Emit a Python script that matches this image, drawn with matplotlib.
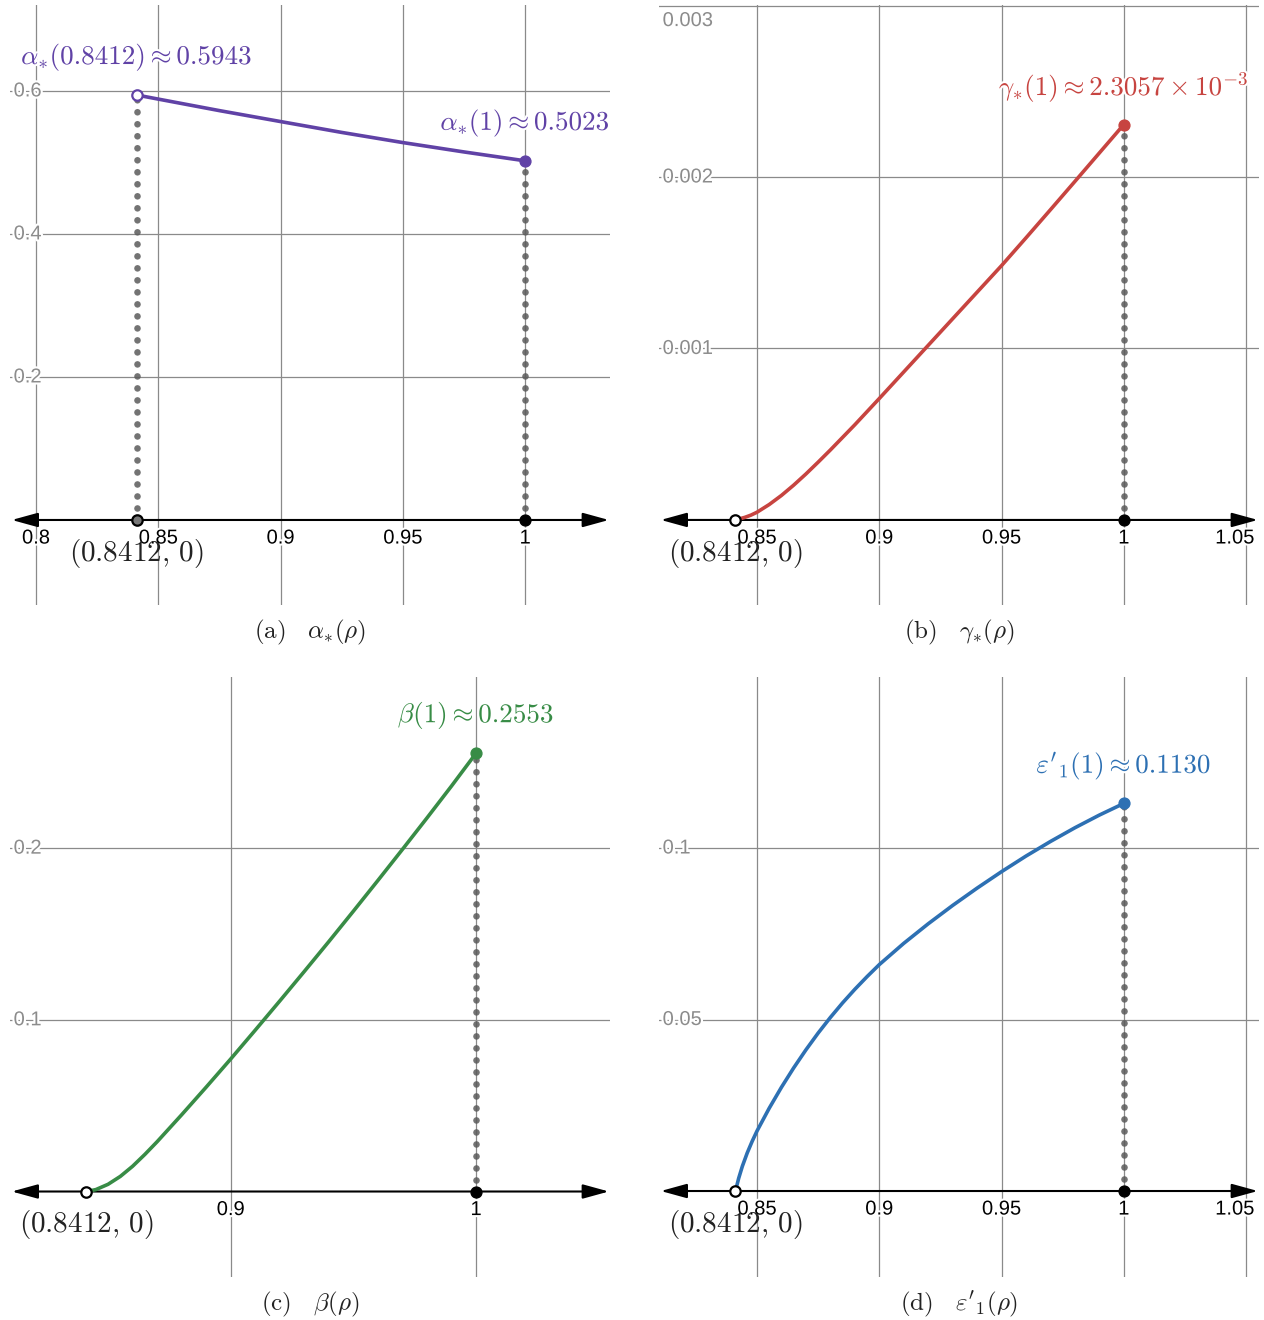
import matplotlib

matplotlib.use("Agg")
import matplotlib.pyplot as plt
import matplotlib.patheffects as pe
from matplotlib.patches import FancyArrowPatch

plt.rcParams["mathtext.fontset"] = "cm"
plt.rcParams["font.family"] = ["Liberation Sans", "DejaVu Sans"]

RHO0 = 0.8412

# (a) alpha_*(rho)
alpha_rho = [0.8412, 0.85, 0.875, 0.9, 0.925, 0.95, 0.975, 1.0]
alpha_val = [0.5943, 0.5886, 0.5725, 0.5572, 0.5420, 0.5278, 0.5147, 0.5023]

# (b) gamma_*(rho)
gamma_rho = [0.8412, 0.845, 0.8475, 0.85, 0.855, 0.86, 0.865, 0.87, 0.875,
             0.88, 0.89, 0.9, 0.91, 0.92, 0.93, 0.94, 0.95, 0.96, 0.97,
             0.98, 0.99, 1.0]
gamma_val = [0.0, 0.000015, 0.000028, 0.000045, 0.000090, 0.000143,
             0.000203, 0.000268, 0.000337, 0.000408, 0.000555, 0.000708,
             0.000863, 0.001018, 0.001173, 0.001328, 0.001483, 0.001645,
             0.001809, 0.001974, 0.00214, 0.0023057]

# (c) beta(rho)
beta_rho = [0.8412, 0.845, 0.85, 0.855, 0.86, 0.865, 0.87, 0.88, 0.89, 0.9,
            0.91, 0.92, 0.93, 0.94, 0.95, 0.96, 0.97, 0.98, 0.99, 1.0]
beta_val = [0.0, 0.0011, 0.0042, 0.0088, 0.0147, 0.0216, 0.0290, 0.0447,
            0.0608, 0.0772, 0.0940, 0.1110, 0.1282, 0.1456, 0.1633, 0.1812,
            0.1993, 0.2176, 0.2362, 0.2553]

# (d) eps'_1(rho)
eps_rho = [0.8412, 0.8425, 0.844, 0.846, 0.848, 0.85, 0.855, 0.86, 0.865,
           0.87, 0.875, 0.88, 0.885, 0.89, 0.895, 0.9, 0.91, 0.92, 0.93,
           0.94, 0.95, 0.96, 0.97, 0.98, 0.99, 1.0]
eps_val = [0.0, 0.0037, 0.0072, 0.0111, 0.01446, 0.0175, 0.02415, 0.03025,
           0.0359, 0.04115, 0.04605, 0.0506, 0.05485, 0.0588, 0.0625, 0.0660,
           0.0722, 0.0779, 0.08325, 0.0883, 0.0931, 0.09765, 0.1019, 0.1059,
           0.1096, 0.1130]

PANELS = [
    dict(rho=alpha_rho, val=alpha_val, color="#6042a6",
         xlim=(0.78937, 1.0347), ylim=(-0.1189, 0.7202),
         xgrid=[0.8, 0.85, 0.9, 0.95, 1.0], xlabels=["0.8", "0.85", "0.9", "0.95", "1"],
         ygrid=[0.2, 0.4, 0.6], ylabels=["0.2", "0.4", "0.6"],
         start_open=True, zero_fill="#777777",
         notes=[(RHO0, 0.5943, r"$\alpha_{*}(0.8412) \approx 0.5943$"),
                (1.0, 0.5023, r"$\alpha_{*}(1) \approx 0.5023$")],
         caption=r"$\mathrm{(a)}\quad\alpha_{*}(\rho)$"),
    dict(rho=gamma_rho, val=gamma_val, color="#c74440",
         xlim=(0.80992, 1.0553), ylim=(-0.000496, 0.003003),
         xgrid=[0.85, 0.9, 0.95, 1.0, 1.05], xlabels=["0.85", "0.9", "0.95", "1", "1.05"],
         ygrid=[0.001, 0.002, 0.003], ylabels=["0.001", "0.002", "0.003"],
         start_open=False, zero_fill="white",
         notes=[(1.0, 0.0023057, r"$\gamma_{*}(1) \approx 2.3057 \times 10^{-3}$")],
         caption=r"$\mathrm{(b)}\quad\gamma_{*}(\rho)$"),
    dict(rho=beta_rho, val=beta_val, color="#388c46",
         xlim=(0.81003, 1.0546), ylim=(-0.0498, 0.2997),
         xgrid=[0.9, 1.0], xlabels=["0.9", "1"],
         ygrid=[0.1, 0.2], ylabels=["0.1", "0.2"],
         start_open=False, zero_fill="white",
         notes=[(1.0, 0.2553, r"$\beta(1) \approx 0.2553$")],
         caption=r"$\mathrm{(c)}\quad\beta(\rho)$"),
    dict(rho=eps_rho, val=eps_val, color="#2d70b3",
         xlim=(0.80992, 1.0553), ylim=(-0.02507, 0.14986),
         xgrid=[0.85, 0.9, 0.95, 1.0, 1.05], xlabels=["0.85", "0.9", "0.95", "1", "1.05"],
         ygrid=[0.05, 0.1], ylabels=["0.05", "0.1"],
         start_open=False, zero_fill="white",
         notes=[(1.0, 0.1130, r"$\varepsilon'{}_1(1) \approx 0.1130$")],
         caption=r"$\mathrm{(d)}\quad\varepsilon'_1(\rho)$"),
]

W, H = 1264, 1320
BOXES = [(10, 5), (659, 5), (10, 677), (659, 677)]  # left, top in px
SIZE = 600

WHITE = [pe.withStroke(linewidth=3, foreground="white")]


def draw_panel(fig, box, p):
    left, top = box
    ax = fig.add_axes([left / W, 1 - (top + SIZE) / H, SIZE / W, SIZE / H])
    ax.set_xlim(*p["xlim"])
    ax.set_ylim(*p["ylim"])
    ax.axis("off")
    xspan = p["xlim"][1] - p["xlim"][0]
    yspan = p["ylim"][1] - p["ylim"][0]

    for x in p["xgrid"]:
        ax.axvline(x, color="#8a8a8a", linewidth=0.9, zorder=1)
    for y in p["ygrid"]:
        ax.axhline(y, color="#8a8a8a", linewidth=0.9, zorder=1)

    # x axis with arrows at both ends
    arrow = FancyArrowPatch((0.003, 0), (0.998, 0),
                            transform=ax.get_yaxis_transform(),
                            arrowstyle="<|-|>,head_length=0.8,head_width=0.22",
                            mutation_scale=20, color="black", linewidth=1.5,
                            shrinkA=0, shrinkB=0, zorder=3)
    ax.add_patch(arrow)

    for x, lab in zip(p["xgrid"], p["xlabels"]):
        near_right = x > p["xlim"][1] - 0.04 * xspan
        if near_right:
            # pull the last label inside the panel, as the source tool does
            ax.annotate(lab, (0.992, 0), xycoords=("axes fraction", "data"),
                        xytext=(0, -13), textcoords="offset points",
                        ha="right", va="center", fontsize=14.5, color="black",
                        path_effects=WHITE, zorder=4)
        else:
            ax.annotate(lab, (x, 0), xytext=(0, -13), textcoords="offset points",
                        ha="center", va="center", fontsize=14.5, color="black",
                        path_effects=WHITE, zorder=4)
    for y, lab in zip(p["ygrid"], p["ylabels"]):
        at_top = y > p["ylim"][1] - 0.02 * yspan
        ax.annotate(lab, (0.006, y), xycoords=("axes fraction", "data"),
                    xytext=(0, -4 if at_top else 0), textcoords="offset points",
                    ha="left", va="top" if at_top else "center", fontsize=14.5,
                    color="#8c8c8c", path_effects=WHITE, zorder=4)

    x_end = p["rho"][-1]
    y_end = p["val"][-1]
    y_start = p["val"][0]

    # dotted drop lines
    drops = [(x_end, y_end)]
    if p["start_open"]:
        drops.insert(0, (p["rho"][0], y_start))
    for xd, yd in drops:
        ax.plot([xd, xd], [0, yd], color="#5a5a5a", linewidth=4.8,
                linestyle=(0, (0.001, 1.8)), dash_capstyle="round",
                alpha=0.85, zorder=2)

    ax.plot(p["rho"], p["val"], color=p["color"], linewidth=2.6,
            solid_capstyle="round", solid_joinstyle="round", zorder=5)

    if p["start_open"]:
        ax.plot(p["rho"][0], y_start, "o", ms=7.5, mfc="white",
                mec=p["color"], mew=1.6, zorder=6)
    ax.plot(x_end, y_end, "o", ms=7.8, color=p["color"], zorder=6)
    ax.plot(RHO0, 0, "o", ms=7.5, mfc=p["zero_fill"], mec="black",
            mew=1.6, zorder=6)
    ax.plot(1.0, 0, "o", ms=7.8, color="black", zorder=6)

    ax.annotate(r"$(0.8412,\,0)$", (RHO0, 0), xytext=(0, -24),
                textcoords="offset points", ha="center", va="center",
                fontsize=21, color="#222222", zorder=7)

    for xn, yn, txt in p["notes"]:
        ax.annotate(txt, (xn, yn), xytext=(0, 27), textcoords="offset points",
                    ha="center", va="center", fontsize=19.5,
                    color=p["color"], path_effects=WHITE, zorder=7)

    fig.text((left + SIZE / 2) / W, 1 - (top + SIZE + 27) / H, p["caption"],
             ha="center", va="center", fontsize=18, color="#222222")


def main():
    fig = plt.figure(figsize=(W / 100, H / 100), dpi=100)
    for box, p in zip(BOXES, PANELS):
        draw_panel(fig, box, p)
    fig.savefig("out.png", dpi=100, facecolor="white")
    plt.close(fig)


if __name__ == "__main__":
    main()
